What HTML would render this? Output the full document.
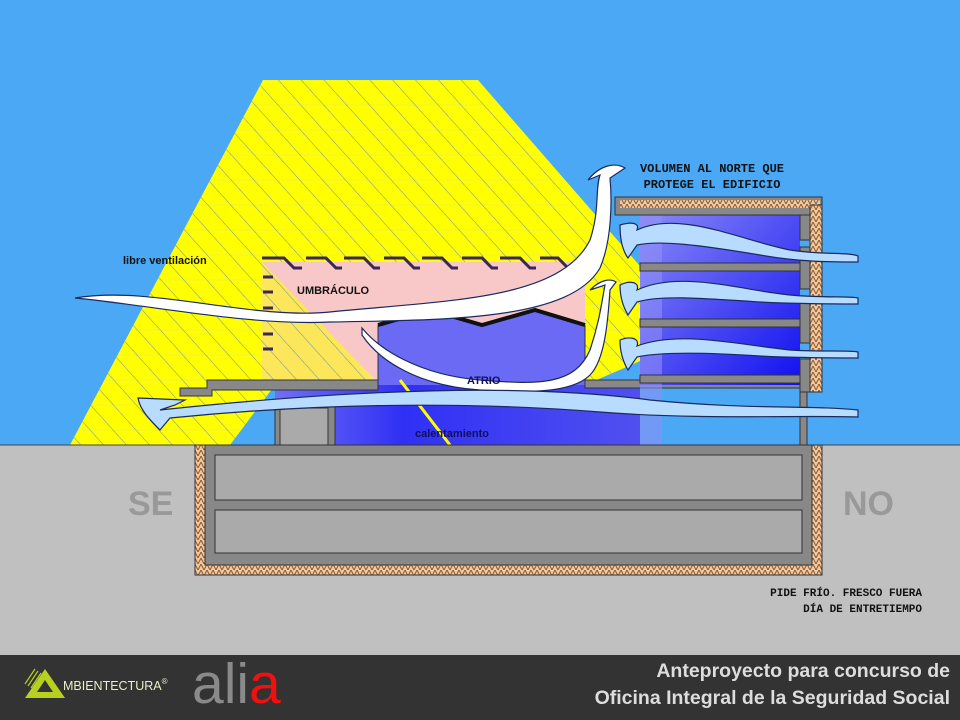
<!DOCTYPE html>
<html><head><meta charset="utf-8"><style>
html,body{margin:0;padding:0;}
body{width:960px;height:720px;overflow:hidden;background:#4aa8f5;}
svg{display:block}
</style></head><body>
<svg width="960" height="720" viewBox="0 0 960 720" xmlns="http://www.w3.org/2000/svg">
<defs>
<linearGradient id="bl" x1="0" y1="0" x2="1" y2="1">
<stop offset="0" stop-color="#8a8af8"/><stop offset="1" stop-color="#1010f0"/></linearGradient>
<linearGradient id="bl2" x1="0" y1="0" x2="1" y2="0">
<stop offset="0" stop-color="#7070f5"/><stop offset="0.35" stop-color="#3030f5"/><stop offset="1" stop-color="#5050f0"/></linearGradient>
<pattern id="hat" width="6" height="6" patternUnits="userSpaceOnUse">
<rect width="6" height="6" fill="#f2c8a0"/><path d="M0 6L3 0L6 6" stroke="#8a5a30" stroke-width="1" fill="none"/></pattern>
<pattern id="str" width="17" height="17" patternUnits="userSpaceOnUse" patternTransform="rotate(-42)">
<line x1="0" y1="0" x2="0" y2="17" stroke="#7a9a90" stroke-width="1.1"/></pattern>
<pattern id="hz" width="20" height="25" patternUnits="userSpaceOnUse">
<line x1="0" y1="5" x2="20" y2="5" stroke="#e0e870" stroke-width="0.6"/></pattern>
</defs>
<rect width="960" height="720" fill="#4aa8f5"/>
<!-- sun beam -->
<polygon points="263,80 478,80 700,335 585,385 275,385 230,445 70,445" fill="#ffff00"/>
<polygon points="263,80 478,80 700,335 585,385 275,385 230,445 70,445" fill="url(#hz)"/>
<polygon points="263,80 478,80 700,335 585,385 275,385 230,445 70,445" fill="url(#str)"/>
<!-- umbraculo -->
<rect x="262" y="262" width="323" height="123" fill="#f8c8c8"/>
<polygon points="262,262 262,385 380,385" fill="#ffff00" opacity="0.55"/>
<polygon points="262,262 262,385 380,385" fill="url(#str)"/>
<g stroke="#3a2850" stroke-width="3" fill="none">
<path d="M262 258h22l10 10h8M306 258h20l10 10h6M344 258h20l10 10h6M384 258h20l10 10h6M422 258h20l10 10h6M462 258h20l10 10h6M500 258h20l10 10h6M540 258h18l10 10h6"/>
<path d="M263 277h10M263 292h10M263 308h10M263 334h10M263 349h10"/>
</g>
<!-- atrium -->
<rect x="275" y="385" width="365" height="60" fill="url(#bl2)"/>
<polygon points="378,325 430,310 482,325 535,310 585,325 585,385 378,385" fill="#6a6af5"/>
<path d="M378 325L430 310L482 325L535 310L585 325" stroke="#111" stroke-width="4" fill="none"/>
<path d="M378 325v60M585 325v60" stroke="#333" stroke-width="1"/>
<line x1="400" y1="380" x2="450" y2="445" stroke="#ffff00" stroke-width="3"/>
<!-- overhang ledge -->
<path d="M180 388h27v-8h171v10H212v6h-32z" fill="#888" stroke="#333"/>
<rect x="585" y="380" width="215" height="8" fill="#888" stroke="#333"/>
<rect x="275" y="403" width="60" height="42" fill="#888" stroke="#333"/>
<rect x="280" y="408" width="48" height="37" fill="#aaa" stroke="#333"/>
<!-- north building -->
<rect x="640" y="215" width="160" height="170" fill="url(#bl)"/>
<rect x="640" y="215" width="22" height="230" fill="#9090f8" opacity="0.6"/>
<rect x="615" y="197" width="207" height="18" fill="#888" stroke="#333"/>
<rect x="620" y="200" width="200" height="8" fill="url(#hat)"/>
<g fill="#888" stroke="#333">
<rect x="640" y="263" width="170" height="8"/><rect x="640" y="319" width="170" height="8"/><rect x="640" y="375" width="170" height="8"/>
<rect x="800" y="215" width="10" height="25"/><rect x="800" y="247" width="10" height="42"/><rect x="800" y="303" width="10" height="40"/><rect x="800" y="359" width="10" height="33"/>
<rect x="800" y="392" width="7" height="53"/>
</g>
<rect x="810" y="205" width="12" height="187" fill="url(#hat)" stroke="#333"/>
<!-- ground -->
<rect x="0" y="445" width="960" height="210" fill="#c0c0c0"/>
<line x1="0" y1="445" x2="960" y2="445" stroke="#444"/>
<rect x="195" y="445" width="627" height="130" fill="url(#hat)" stroke="#333"/>
<rect x="205" y="445" width="607" height="120" fill="#888" stroke="#333"/>
<rect x="215" y="455" width="587" height="45" fill="#aaa" stroke="#333"/>
<rect x="215" y="510" width="587" height="43" fill="#aaa" stroke="#333"/>
<!-- air flows -->
<g fill="#b8dcff" stroke="#1a2a60" stroke-width="1.2">
<path d="M75 298C150 285 250 320 330 312C450 300 560 300 590 240C600 210 595 190 600 175L588 180C600 165 615 162 625 168L610 178C612 200 612 240 600 268C570 320 450 320 330 322C250 326 150 305 75 298Z" fill="#ffffff"/>
<path d="M362 328C380 350 420 375 480 380C540 385 575 385 590 350C600 320 602 300 605 285L590 290C600 280 610 278 616 282L610 290C608 320 605 360 590 375C570 395 520 392 480 390C420 386 380 362 362 335Z" fill="#ffffff"/>
<path d="M138 398L185 400L175 405L160 410C300 395 500 380 650 400C750 410 810 405 858 410L858 417C800 415 700 420 600 412C450 400 300 405 170 418L160 430C150 420 140 410 138 398Z"/>
<path d="M620 225C630 222 640 222 637 230C680 210 740 240 790 250C820 255 850 252 858 256L858 262C830 262 800 262 760 255C700 245 660 240 637 245L628 258C622 250 620 238 620 225Z"/>
<path d="M620 285C630 280 640 282 637 290C680 270 740 290 790 295C820 298 850 296 858 298L858 304C830 304 800 304 760 302C700 298 660 295 637 302L628 315C622 305 620 295 620 285Z"/>
<path d="M620 340C630 336 640 338 637 346C680 330 740 345 790 350C820 352 850 350 858 352L858 358C830 358 800 358 760 356C700 352 660 352 637 357L628 370C622 360 620 350 620 340Z"/>
</g>
<!-- labels -->
<g font-family="Liberation Sans, sans-serif" font-weight="bold" fill="#111">
<text x="123" y="264" font-size="11">libre ventilación</text>
<text x="297" y="294" font-size="11">UMBRÁCULO</text>
<text x="467" y="384" font-size="11" fill="#101060">ATRIO</text>
<text x="415" y="437" font-size="11" fill="#101060">calentamiento</text>
<text x="712" y="172" font-size="12" text-anchor="middle" font-family="Liberation Mono, monospace">VOLUMEN AL NORTE QUE</text>
<text x="712" y="188" font-size="12" text-anchor="middle" font-family="Liberation Mono, monospace">PROTEGE EL EDIFICIO</text>
<text x="922" y="596" font-size="11" text-anchor="end" font-family="Liberation Mono, monospace">PIDE FRÍO. FRESCO FUERA</text>
<text x="922" y="612" font-size="11" text-anchor="end" font-family="Liberation Mono, monospace">DÍA DE ENTRETIEMPO</text>
<text x="128" y="515" font-size="34" fill="#999">SE</text>
<text x="843" y="515" font-size="34" fill="#999">NO</text>
</g>
<!-- footer -->
<rect x="0" y="655" width="960" height="65" fill="#333333"/>
<polygon points="25,698 45,669 65,698" fill="#b8d020"/>
<polygon points="37,692 45,680 53,692" fill="#333333"/>
<g stroke="#b8d020" stroke-width="1.2"><line x1="25" y1="684" x2="35" y2="669"/><line x1="28" y1="686" x2="38" y2="671"/><line x1="31" y1="688" x2="41" y2="673"/></g>
<text x="63" y="690" font-family="Liberation Sans, sans-serif" font-size="12.5" fill="#e8f0c8">MBIENTECTURA<tspan font-size="8" dy="-6">®</tspan></text>
<text x="192" y="703" font-family="Liberation Sans, sans-serif" font-size="57" fill="#8a8a8a">ali<tspan fill="#f01010">a</tspan></text>
<text x="950" y="677" text-anchor="end" font-family="Liberation Sans, sans-serif" font-weight="bold" font-size="19.5" fill="#dddddd">Anteproyecto para concurso de</text>
<text x="950" y="704" text-anchor="end" font-family="Liberation Sans, sans-serif" font-weight="bold" font-size="19.5" fill="#dddddd">Oficina Integral de la Seguridad Social</text>
</svg>
</body></html>
